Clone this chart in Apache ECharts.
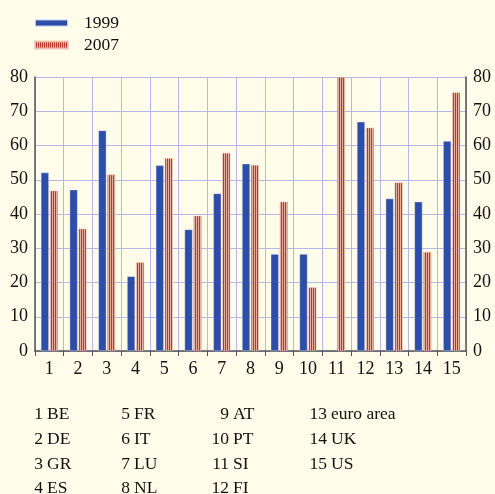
<!DOCTYPE html>
<html>
<head>
<meta charset="utf-8">
<script src="https://cdn.jsdelivr.net/npm/echarts@6/dist/echarts.min.js"></script>
<style>
  html, body { margin: 0; padding: 0; background: #fffde9; }
  #main { width: 495px; height: 494px; }
</style>
</head>
<body>
<div id="main"></div>
<script>
// categories along the x axis and the country they stand for
var categories = ['1', '2', '3', '4', '5', '6', '7', '8', '9', '10', '11', '12', '13', '14', '15'];
var countries = ['BE', 'DE', 'GR', 'ES', 'FR', 'IT', 'LU', 'NL', 'AT', 'PT', 'SI', 'FI', 'euro area', 'UK', 'US'];
var values1999 = [52.1, 47.1, 64.4, 21.8, 54.2, 35.5, 46.0, 54.7, 28.3, 28.3, null, 66.9, 44.5, 43.6, 61.3];
var values2007 = [46.8, 35.7, 51.5, 25.9, 56.3, 39.5, 57.8, 54.3, 43.6, 18.6, 80.0, 65.2, 49.2, 28.9, 75.5];
var yTicks = [0, 10, 20, 30, 40, 50, 60, 70, 80];

var serif = 'Liberation Serif';

// striped fill for the 2007 bars
var stripe = document.createElement('canvas');
stripe.width = 2;
stripe.height = 8;
var ctx = stripe.getContext('2d');
ctx.fillStyle = '#e6ae9e';
ctx.fillRect(0, 0, 2, 8);
ctx.fillStyle = '#b8382c';
ctx.fillRect(1, 0, 1, 8);

// country key under the chart, 4 rows per column
var colNumRight = [43, 130, 229, 327];
var rowY = [414, 439, 464, 488];
var keyText = [];
for (var i = 0; i < countries.length; i++) {
    var col = Math.floor(i / 4);
    var row = i % 4;
    keyText.push({
        type: 'text',
        x: colNumRight[col],
        y: rowY[row],
        style: {
            text: categories[i],
            font: '17.5px "' + serif + '"',
            fill: '#111',
            align: 'right',
            verticalAlign: 'middle'
        }
    }, {
        type: 'text',
        x: colNumRight[col] + 4,
        y: rowY[row],
        style: {
            text: countries[i],
            font: '17.5px "' + serif + '"',
            fill: '#111',
            align: 'left',
            verticalAlign: 'middle'
        }
    });
}

var gridColor = '#b3b7ec';
var axisColor = '#555555';

function valueAxis(pos) {
    return {
        type: 'value',
        position: pos,
        min: yTicks[0],
        max: yTicks[yTicks.length - 1],
        interval: 10,
        axisLine: { show: true, lineStyle: { color: axisColor, width: 1.5 } },
        axisTick: { show: false },
        axisLabel: {
            color: '#111',
            fontFamily: serif,
            fontSize: 18,
            margin: 7
        },
        splitLine: { show: pos == 'left', lineStyle: { color: gridColor, width: 1 } }
    };
}

var myChart = echarts.init(document.getElementById('main'));

var option = {
    animation: false,
    backgroundColor: '#fffde9',
    grid: { left: 35, right: 29, top: 77, bottom: 143, containLabel: false },
    legend: {
        orient: 'vertical',
        left: 29,
        top: 9,
        itemWidth: 33,
        itemHeight: 7,
        itemGap: 4,
        icon: 'rect',
        textStyle: {
            fontFamily: serif,
            fontSize: 17.5,
            color: '#111',
            padding: [0, 0, 0, 11]
        },
        data: ['1999', '2007']
    },
    xAxis: {
        type: 'category',
        data: categories,
        boundaryGap: true,
        axisLine: { show: true, lineStyle: { color: axisColor, width: 1.5 } },
        axisTick: { show: true, length: 5, lineStyle: { color: axisColor } },
        axisLabel: {
            color: '#111',
            fontFamily: serif,
            fontSize: 18,
            margin: 9
        },
        splitLine: { show: true, lineStyle: { color: gridColor, width: 1 } }
    },
    yAxis: [valueAxis('left'), valueAxis('right')],
    series: [
        {
            name: '1999',
            type: 'bar',
            data: values1999,
            barWidth: 8,
            barGap: '12%',
            itemStyle: {
                color: '#2d4ea8',
                borderColor: 'rgba(255,255,255,0.7)',
                borderWidth: 0.5
            }
        },
        {
            name: '2007',
            type: 'bar',
            data: values2007,
            barWidth: 8,
            itemStyle: {
                color: { image: stripe, repeat: 'repeat' },
                borderColor: 'rgba(240,190,180,0.8)',
                borderWidth: 0.5
            }
        }
    ],
    graphic: keyText
};

myChart.setOption(option);
</script>
</body>
</html>
